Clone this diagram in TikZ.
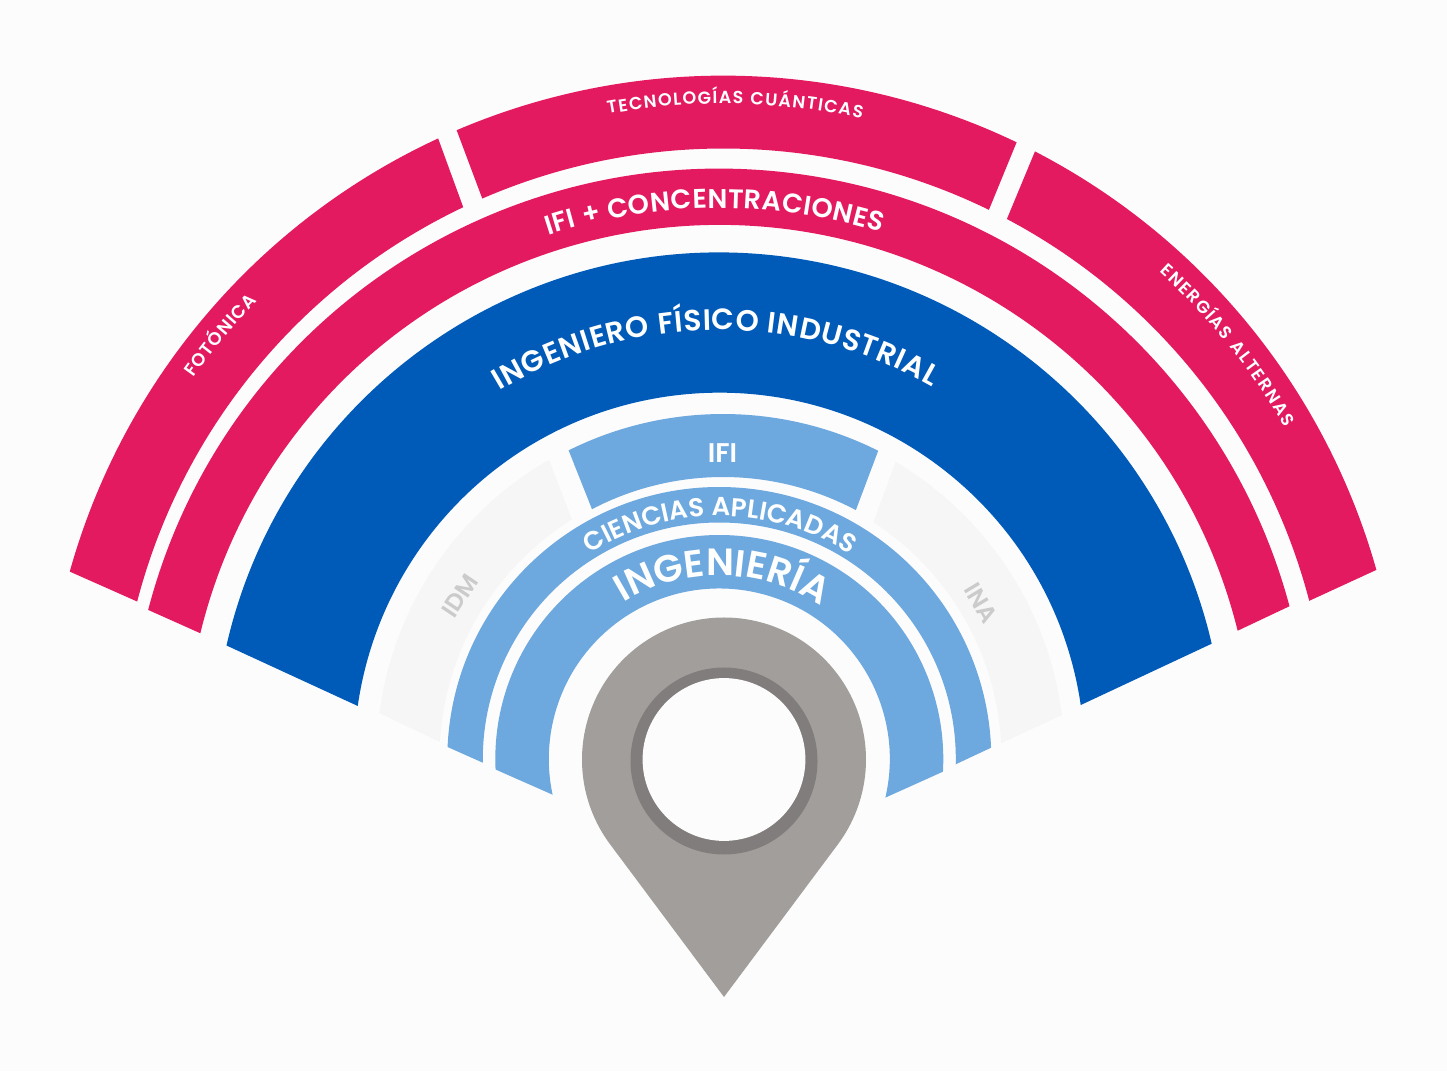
\documentclass[tikz,border=0pt]{standalone}
\usepackage{fontspec}
\setmainfont{Poppins}[BoldFont={Poppins SemiBold}]
\usetikzlibrary{
  decorations.text
}
\definecolor{pagebg}{HTML}{FCFCFC}
\definecolor{bandred}{HTML}{E41A60}
\definecolor{bandblue}{HTML}{005BB8}
\definecolor{bandsky}{HTML}{6DA8DE}
\definecolor{bandpale}{HTML}{F6F6F6}
\definecolor{pingrey}{HTML}{A19E9B}
\definecolor{pinring}{HTML}{807D7C}
\definecolor{palelabel}{HTML}{CBCBCB}
% outer radius, inner radius, then the four corner angles
\newcommand{\bandpath}[6]{(#3:#1) arc[start angle=#3, end angle=#4, radius=#1] -- (#5:#2) arc[start angle=#5, end angle=#6, radius=#2] -- cycle}
% radius, start angle, end angle, size, text
\newcommand{\bandtext}[5]{\path[decorate, decoration={text along path, text align={fit to path},
    text={|\bfseries\fontsize{#4}{#4}\selectfont\color{white}|#5}}] (#2:#1) arc[start angle=#2, end angle=#3, radius=#1];}
\begin{document}
\begin{tikzpicture}[x=1pt, y=1pt,
    every node/.style = {font=\bfseries, align=center, inner sep=0pt}]
    \fill[pagebg] (0,0) rectangle (1447,1071);

    \begin{scope}[shift={(723.3,316.8)}]
        \fill[bandred] \bandpath{678.6}{605.7}{164.39}{114.85}{115.43}{165.4};
        \fill[bandred] \bandpath{678.6}{605.7}{113.14}{64.39}{63.99}{113.45};
        \fill[bandred] \bandpath{678.6}{605.7}{62.66}{15.76}{14.67}{62.08};
        \bandtext{650}{144.6}{135.8}{18}{FOTÓNICA}
        \bandtext{650.5}{100.2}{77.7}{17.5}{TECNOLOGÍAS CUÁNTICAS}
        \bandtext{650}{47.9}{30.2}{17.5}{ENERGÍAS ALTERNAS}
    \end{scope}

    \begin{scope}[shift={(719.3,312)}]
        \fill[bandred] \bandpath{590.3}{534}{165.37}{15}{13.9}{166.38};
        \bandtext{551}{108.1}{72.9}{27}{IFI + CONCENTRACIONES}
    \end{scope}

    \begin{scope}[shift={(719.3,313)}]
        \fill[bandblue] \bandpath{505.5}{365.3}{167.14}{13.07}{8.34}{171.81};
        \bandtext{428}{120.9}{60.2}{29.5}{INGENIERO FÍSICO INDUSTRIAL}
    \end{scope}

    \begin{scope}[shift={(720.5,313)}]
        \fill[bandpale] \bandpath{344}{281}{172.51}{119.92}{121.92}{176.75};
        \fill[bandpale] \bandpath{344}{281}{59.4}{7.18}{3.02}{57.05};
    \end{scope}

    \begin{scope}[shift={(723,311)}]
        \fill[bandsky] \bandpath{346}{283}{116.5}{63.35}{62}{117.58};
    \end{scope}

    \begin{scope}[shift={(719.3,312)}]
        \fill[bandsky] \bandpath{272}{236.5}{177.47}{2.38}{-1.28}{180.9};
        \fill[bandsky] \bandpath{224}{170.5}{182.69}{-3.25}{-13.09}{192.09};
        \bandtext{243}{122.2}{57.4}{26}{CIENCIAS APLICADAS}
        \bandtext{183.5}{121.6}{58}{38}{INGENIERÍA}
    \end{scope}

    \node[text=white, font=\bfseries\fontsize{27}{27}\selectfont] (ifi) at (722.5,618) {IFI};
    \node[text=palelabel, rotate=56, font=\bfseries\fontsize{24}{24}\selectfont] (idm) at (460,475) {IDM};
    \node[text=palelabel, rotate=-59, font=\bfseries\fontsize{24}{24}\selectfont] (ina) at (981,468) {INA};

    \begin{scope}[shift={(724,311.5)}]
        \fill[pingrey] (216.7:142) arc[start angle=216.7, end angle=-36.7, radius=142] -- (0,-237.5) -- cycle;
        \fill[pinring] (0,-1.5) circle[radius=93.5];
        \fill[pagebg] (0,0) circle[radius=81.4];
    \end{scope}
\end{tikzpicture}
\end{document}
